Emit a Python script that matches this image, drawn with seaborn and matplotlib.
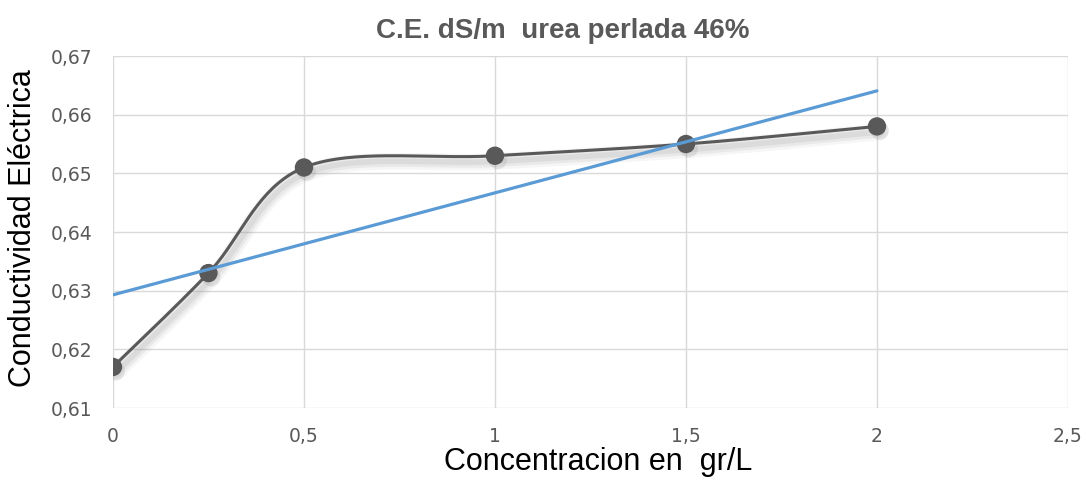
import numpy as np
import pandas as pd
import matplotlib
matplotlib.use("Agg")
import matplotlib.pyplot as plt
import matplotlib.patheffects as pe
import seaborn as sns

# datos
concentracion = [0, 0.25, 0.5, 1, 1.5, 2]
conductividad = [0.617, 0.633, 0.651, 0.653, 0.655, 0.658]
x_ticks = [0, 0.5, 1, 1.5, 2, 2.5]
x_labels = ["0", "0,5", "1", "1,5", "2", "2,5"]
y_ticks = [0.61, 0.62, 0.63, 0.64, 0.65, 0.66, 0.67]
y_labels = ["0,61", "0,62", "0,63", "0,64", "0,65", "0,66", "0,67"]

titulo = "C.E. dS/m  urea perlada 46%"
etiqueta_x = "Concentracion en  gr/L"
etiqueta_y = "Conductividad Eléctrica"

df = pd.DataFrame({"x": concentracion, "y": conductividad})


# curva suavizada tipo Excel (bezier con puntos de control a 1/6)
def suavizar(xs, ys, n=40):
    p = np.column_stack([xs, ys]).astype(float)
    m = len(p)
    out = []
    for i in range(m - 1):
        p0 = p[i - 1] if i > 0 else p[i]
        p1 = p[i]
        p2 = p[i + 1]
        p3 = p[i + 2] if i + 2 < m else p[i + 1]
        c1 = p1 + (p2 - p0) / 6.0
        c2 = p2 - (p3 - p1) / 6.0
        t = np.linspace(0, 1, n)[:, None]
        seg = ((1 - t) ** 3) * p1 + 3 * ((1 - t) ** 2) * t * c1 + 3 * (1 - t) * t ** 2 * c2 + t ** 3 * p2
        out.append(seg if i == 0 else seg[1:])
    out = np.vstack(out)
    return out[:, 0], out[:, 1]


sx, sy = suavizar(concentracion, conductividad)

sns.set_style("white")
fig = plt.figure(figsize=(10.86, 4.8), dpi=100)
ax = fig.add_axes([0.104, 0.15, 0.8794, 0.7333])

gris = "#595959"
azul = "#5B9BD5"

# sombra difusa bajo la serie
sombra = [
    pe.SimpleLineShadow(offset=(2, -4), shadow_color="#909090", alpha=0.08, linewidth=12),
    pe.SimpleLineShadow(offset=(2, -4), shadow_color="#909090", alpha=0.12, linewidth=8),
    pe.SimpleLineShadow(offset=(2, -4), shadow_color="#909090", alpha=0.15, linewidth=4),
    pe.Normal(),
]
ax.plot(sx, sy, color=gris, lw=2.2, zorder=3, path_effects=sombra)

sns.scatterplot(data=df, x="x", y="y", ax=ax, color=gris, s=175,
                edgecolor="none", zorder=4, legend=False)
ax.collections[-1].set_path_effects([
    pe.SimplePatchShadow(offset=(2, -3), shadow_rgbFace="#909090", alpha=0.2),
    pe.Normal(),
])

# linea de tendencia lineal
sns.regplot(data=df, x="x", y="y", ax=ax, scatter=False, ci=None,
            line_kws={"color": azul, "lw": 2.3, "zorder": 5})

ax.set_xlim(0, 2.5)
ax.set_ylim(0.61, 0.67)
ax.set_xticks(x_ticks)
ax.set_xticklabels(x_labels)
ax.set_yticks(y_ticks)
ax.set_yticklabels(y_labels)
ax.tick_params(axis="both", length=0, labelsize=13.5, labelcolor=gris)
ax.tick_params(axis="x", pad=14)
ax.tick_params(axis="y", pad=15)
for lab in ax.get_xticklabels() + ax.get_yticklabels():
    lab.set_family("DejaVu Sans")

ax.grid(True, color="#D9D9D9", lw=1.0)
ax.set_axisbelow(True)
for s in ax.spines.values():
    s.set_visible(False)

ax.set_xlabel(etiqueta_x, fontsize=22, family="Liberation Sans", color="black")
ax.set_ylabel(etiqueta_y, fontsize=22, family="Liberation Sans", color="black")
ax.xaxis.set_label_coords(0.508, -0.111)
ax.yaxis.set_label_coords(-0.078, 0.511)

fig.text(563 / 1086, 1 - 31 / 480, titulo, ha="center", va="center",
         fontsize=20, fontweight="bold", family="Liberation Sans", color=gris)

fig.savefig("out.png", dpi=100)
